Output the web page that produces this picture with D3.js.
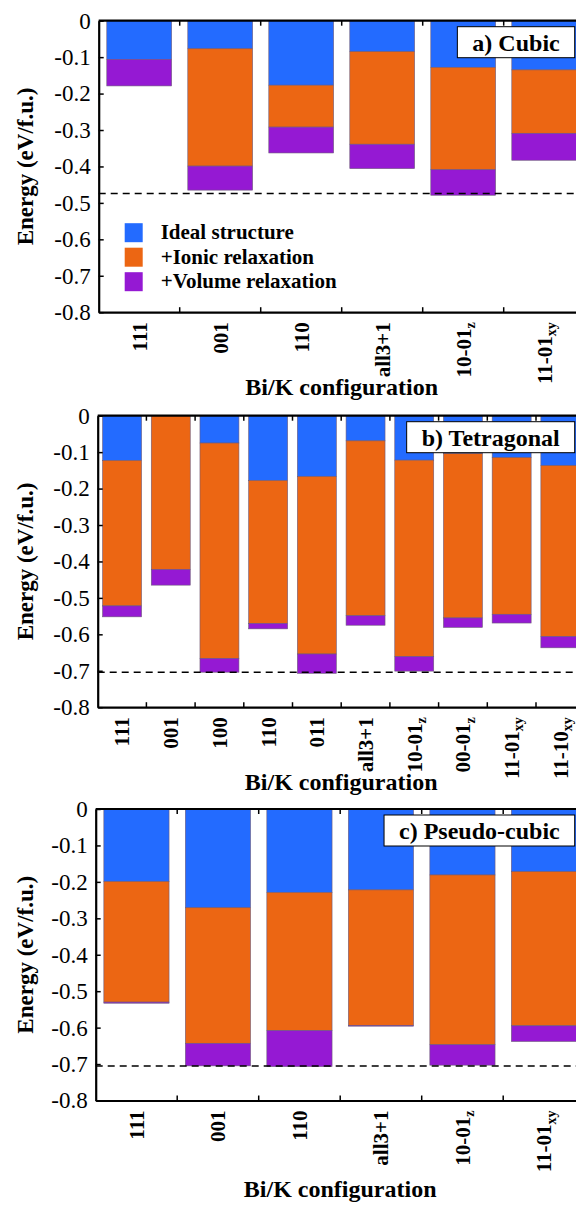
<!DOCTYPE html>
<html>
<head>
<meta charset="utf-8">
<script src="https://cdn.jsdelivr.net/npm/d3@7"></script>
<style>
  body { margin: 0; background: #fff; }
  svg { display: block; font-family: "Liberation Serif", "Times New Roman", serif; }
</style>
</head>
<body>
<script>
// Data (eV/f.u.), cumulative energies after each relaxation step
var seriesNames = ["Ideal structure", "+Ionic relaxation", "+Volume relaxation"];
var colors      = ["#236bff", "#ec6613", "#9519d3"];
var yTicks      = [0, -0.1, -0.2, -0.3, -0.4, -0.5, -0.6, -0.7, -0.8];

// a) Cubic
var catsA   = ["111", "001", "110", "all3+1", "10-01_z", "11-01_xy"];
var idealA  = [-0.106, -0.077, -0.177, -0.085, -0.128, -0.135];
var ionicA  = [-0.106, -0.399, -0.292, -0.339, -0.409, -0.309];
var volumeA = [-0.179, -0.465, -0.363, -0.406, -0.479, -0.383];
var refA    = -0.474;

// b) Tetragonal
var catsB   = ["111", "001", "100", "110", "011", "all3+1", "10-01_z", "00-01_z", "11-01_xy", "11-10_xy"];
var idealB  = [-0.123, 0, -0.075, -0.178, -0.167, -0.069, -0.122, -0.104, -0.115, -0.137];
var ionicB  = [-0.522, -0.422, -0.666, -0.570, -0.654, -0.549, -0.661, -0.555, -0.545, -0.606];
var volumeB = [-0.552, -0.465, -0.704, -0.585, -0.707, -0.575, -0.701, -0.581, -0.569, -0.637];
var refB    = -0.704;

// c) Pseudo-cubic
var catsC   = ["111", "001", "110", "all3+1", "10-01_z", "11-01_xy"];
var idealC  = [-0.199, -0.271, -0.229, -0.222, -0.181, -0.172];
var ionicC  = [-0.530, -0.643, -0.608, -0.594, -0.647, -0.595];
var volumeC = [-0.533, -0.705, -0.707, -0.596, -0.703, -0.638];
var refC    = -0.705;

var width = 576, height = 1205;

var panels = [
  { title: "a) Cubic",        cats: catsA, ideal: idealA, ionic: ionicA, volume: volumeA, ref: refA, left: 98.7, top: 20.7,  w: 486, xlabelY: 395,  legend: true },
  { title: "b) Tetragonal",   cats: catsB, ideal: idealB, ionic: ionicB, volume: volumeB, ref: refB, left: 97.7, top: 415.7, w: 487, xlabelY: 790,  legend: false },
  { title: "c) Pseudo-cubic", cats: catsC, ideal: idealC, ionic: ionicC, volume: volumeC, ref: refC, left: 95.7, top: 809,   w: 489, xlabelY: 1197, legend: false }
];
var plotH = 291.5;

var svg = d3.select("body").append("svg")
  .attr("width", width)
  .attr("height", height);

svg.append("rect").attr("width", width).attr("height", height).attr("fill", "#fff");

panels.forEach(function(p){ drawPanel(p); });

function drawPanel(p){
  var g = svg.append("g").attr("transform", "translate(" + p.left + "," + p.top + ")");

  var x = d3.scaleBand().domain(p.cats).range([0, p.w]).paddingInner(0.2).paddingOuter(0.1);
  var y = d3.scaleLinear().domain([0, -0.8]).range([0, plotH]);

  // stacked segments
  var segs = [];
  p.cats.forEach(function(c, i){
    segs.push({ c: c, y0: 0,          y1: p.ideal[i],  k: 0 });
    segs.push({ c: c, y0: p.ideal[i], y1: p.ionic[i],  k: 1 });
    segs.push({ c: c, y0: p.ionic[i], y1: p.volume[i], k: 2 });
  });
  segs = segs.filter(function(d){ return d.y1 < d.y0; });

  g.selectAll("rect.seg").data(segs).join("rect")
    .attr("class", "seg")
    .attr("x", function(d){ return x(d.c); })
    .attr("width", x.bandwidth())
    .attr("y", function(d){ return y(d.y0); })
    .attr("height", function(d){ return y(d.y1) - y(d.y0); })
    .attr("fill", function(d){ return colors[d.k]; })
    .attr("stroke", "#6d5a7a")
    .attr("stroke-width", 0.6);

  // reference line
  g.append("line")
    .attr("x1", 0).attr("x2", p.w)
    .attr("y1", y(p.ref)).attr("y2", y(p.ref))
    .attr("stroke", "#000").attr("stroke-width", 1.5)
    .attr("stroke-dasharray", "7,5");

  // y axis
  var yAxis = g.append("g")
    .call(d3.axisLeft(y).tickValues(yTicks).tickSize(-5).tickSizeOuter(0).tickPadding(8)
      .tickFormat(function(d){ return d === 0 ? "0" : d.toFixed(1); }));
  yAxis.select(".domain").attr("stroke-width", 2.2);
  yAxis.selectAll(".tick line").attr("stroke-width", 1.5);
  yAxis.selectAll("text")
    .attr("font-size", 23)
    .attr("font-family", "Liberation Serif, Times New Roman, serif")
    .attr("fill", "#000");

  // x axis: labels at band centres
  var xAxis = g.append("g")
    .attr("transform", "translate(0," + plotH + ")")
    .call(d3.axisBottom(x).tickSize(0).tickSizeOuter(0));
  xAxis.select(".domain").attr("stroke-width", 2.2);
  xAxis.selectAll("text").each(function(d){
    var parts = d.split("_");
    var t = d3.select(this).text("")
      .attr("transform", "rotate(-90)")
      .attr("x", -10).attr("y", 0).attr("dy", "0.35em")
      .attr("text-anchor", "end")
      .attr("font-size", 21)
      .attr("font-weight", "bold")
      .attr("font-family", "Liberation Serif, Times New Roman, serif")
      .attr("fill", "#000");
    t.append("tspan").text(parts[0]);
    if(parts[1]) t.append("tspan").attr("dy", "0.3em").attr("font-size", 14).text(parts[1]);
  });

  // top frame line
  g.append("line")
    .attr("x1", 0).attr("x2", p.w).attr("y1", 0).attr("y2", 0)
    .attr("stroke", "#000").attr("stroke-width", 2.2);

  // ticks between categories (top and bottom, inward)
  var bounds = p.cats.slice(1).map(function(c){ return x(c) - x.step() * x.paddingInner() / 2; });
  g.selectAll("line.tb").data(bounds).join("line")
    .attr("class", "tb")
    .attr("x1", function(d){ return d; }).attr("x2", function(d){ return d; })
    .attr("y1", 0).attr("y2", 5)
    .attr("stroke", "#000").attr("stroke-width", 1.5);
  g.selectAll("line.bb").data(bounds).join("line")
    .attr("class", "bb")
    .attr("x1", function(d){ return d; }).attr("x2", function(d){ return d; })
    .attr("y1", plotH).attr("y2", plotH - 5)
    .attr("stroke", "#000").attr("stroke-width", 1.5);

  // y label
  svg.append("text")
    .attr("transform", "translate(25," + (p.top + plotH / 2) + ") rotate(-90)")
    .attr("dy", "0.35em")
    .attr("text-anchor", "middle")
    .attr("font-size", 23)
    .attr("font-weight", "bold")
    .text("Energy (eV/f.u.)");

  // x label
  svg.append("text")
    .attr("x", p.left + p.w / 2)
    .attr("y", p.xlabelY)
    .attr("text-anchor", "middle")
    .attr("font-size", 24)
    .attr("font-weight", "bold")
    .text("Bi/K configuration");

  // panel title box
  var tb = g.append("g");
  var tt = tb.append("text")
    .attr("font-size", 24)
    .attr("font-weight", "bold")
    .text(p.title);
  var tw = tt.node().getComputedTextLength();
  var boxR = p.w - 10, boxW = tw + 30;
  tb.insert("rect", "text")
    .attr("x", boxR - boxW).attr("y", 6)
    .attr("width", boxW).attr("height", 31)
    .attr("fill", "#fff").attr("stroke", "#000").attr("stroke-width", 1);
  tt.attr("x", boxR - boxW + 15).attr("y", 30);

  // legend
  if(p.legend){
    var lg = g.append("g").attr("transform", "translate(26,202.5)");
    var items = lg.selectAll("g").data(seriesNames).join("g")
      .attr("transform", function(d, i){ return "translate(0," + (i * 24.5) + ")"; });
    items.append("rect")
      .attr("width", 18).attr("height", 19)
      .attr("fill", function(d, i){ return colors[i]; });
    items.append("text")
      .attr("x", 36).attr("y", 16)
      .attr("font-size", 21)
      .attr("font-weight", "bold")
      .text(function(d){ return d; });
  }
}
</script>
</body>
</html>
